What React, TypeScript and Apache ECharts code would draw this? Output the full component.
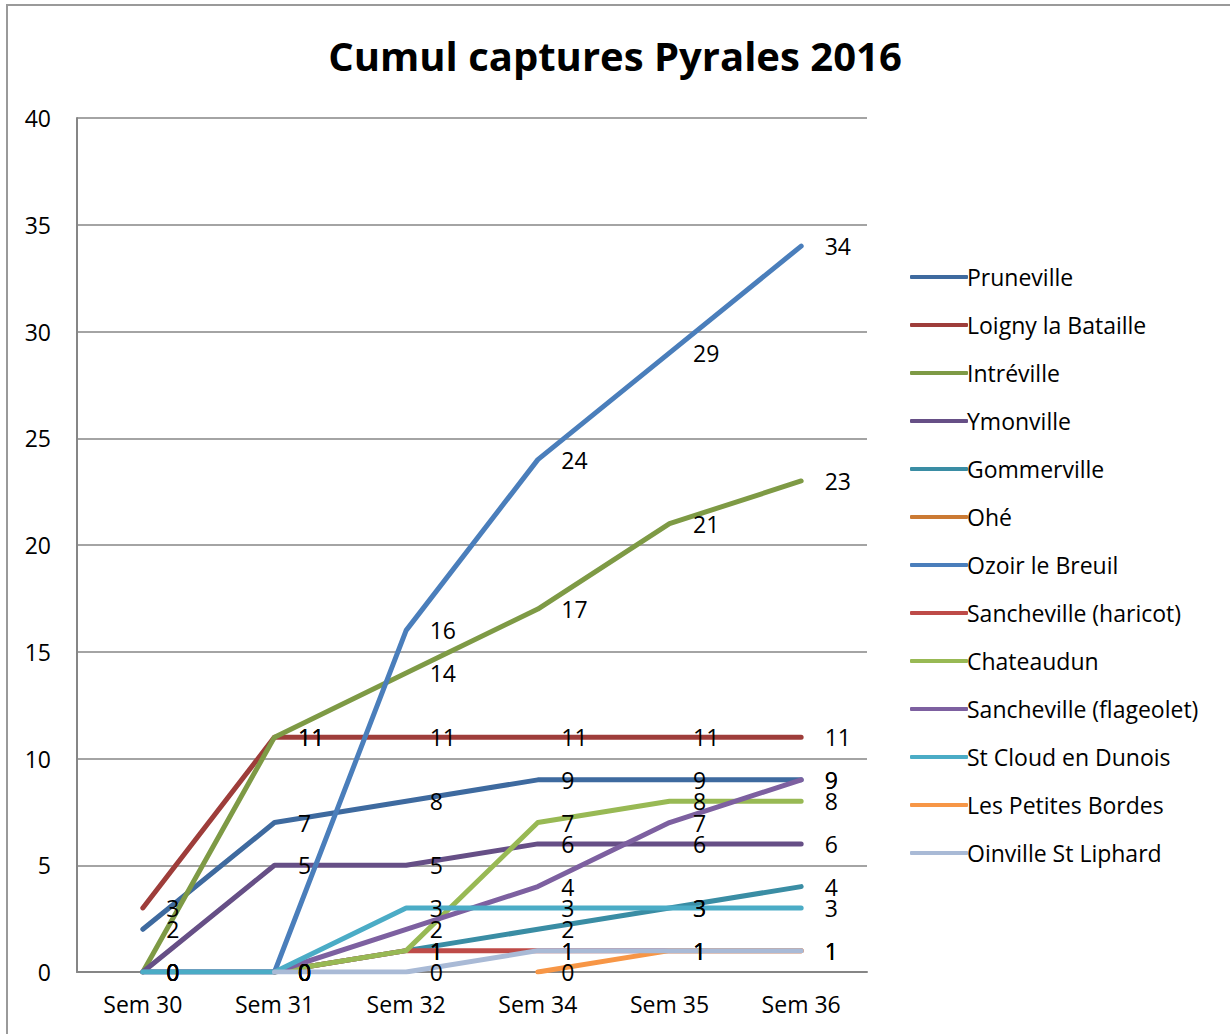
import React, { useEffect, useRef } from "react";
import * as echarts from "echarts";

const categories = ["Sem 30", "Sem 31", "Sem 32", "Sem 34", "Sem 35", "Sem 36"];
const yTicks = { min: 0, max: 40, interval: 5 };

const seriesNames = [
  "Pruneville",
  "Loigny la Bataille",
  "Intréville",
  "Ymonville",
  "Gommerville",
  "Ohé",
  "Ozoir le Breuil",
  "Sancheville (haricot)",
  "Chateaudun",
  "Sancheville (flageolet)",
  "St Cloud en Dunois",
  "Les Petites Bordes",
  "Oinville St Liphard",
];

const pruneville = [2, 7, 8, 9, 9, 9];
const loigny = [3, 11, 11, 11, 11, 11];
const intreville = [0, 11, 14, 17, 21, 23];
const ymonville = [0, 5, 5, 6, 6, 6];
const gommerville = [0, 0, 1, 2, 3, 4];
const ohe = [null, null, null, null, null, null];
const ozoir = [null, 0, 16, 24, 29, 34];
const sanchevilleHaricot = [null, 0, 1, 1, 1, 1];
const chateaudun = [null, 0, 1, 7, 8, 8];
const sanchevilleFlageolet = [0, 0, 2, 4, 7, 9];
const stCloud = [0, 0, 3, 3, 3, 3];
const petitesBordes = [null, null, null, 0, 1, 1];
const oinville = [null, 0, 0, 1, 1, 1];

const seriesValues = [
  pruneville,
  loigny,
  intreville,
  ymonville,
  gommerville,
  ohe,
  ozoir,
  sanchevilleHaricot,
  chateaudun,
  sanchevilleFlageolet,
  stCloud,
  petitesBordes,
  oinville,
];

const colors = [
  "#3E6A9F",
  "#9E3D3A",
  "#7E9A45",
  "#664F86",
  "#3A8DA4",
  "#CB7A33",
  "#4A7EBB",
  "#BE4B48",
  "#98B954",
  "#7D60A0",
  "#4BACC6",
  "#F79646",
  "#A9BAD6",
];

const FONT = "Open Sans";

export default function App() {
  const ref = useRef<HTMLDivElement>(null);
  useEffect(() => {
    if (!ref.current) return;
    const chart = echarts.init(ref.current, undefined, { renderer: "svg" });
    chart.setOption({
      animation: false,
      backgroundColor: "#ffffff",
      color: colors,
      textStyle: { fontFamily: FONT },
      title: {
        text: "Cumul captures Pyrales 2016",
        left: "center",
        top: 30,
        textStyle: { fontFamily: FONT, fontWeight: "bold", fontSize: 40, color: "#000" },
      },
      graphic: [
        {
          type: "rect",
          shape: { x: 7, y: 5, width: 1300, height: 1100 },
          style: { fill: "none", stroke: "#9a9a9a", lineWidth: 2 },
          silent: true,
        },
      ],
      legend: {
        orient: "vertical",
        left: 905,
        top: 260,
        icon: "roundRect",
        itemWidth: 58,
        itemHeight: 4,
        itemGap: 24,
        textStyle: { fontFamily: FONT, fontSize: 23, color: "#000", lineHeight: 24, padding: [0, 0, 0, -6] },
        data: seriesNames.map((name, i) => ({ name, itemStyle: { color: colors[i] } })),
      },
      grid: { left: 77, right: 363, top: 118, bottom: 62 },
      xAxis: {
        type: "category",
        data: categories,
        boundaryGap: true,
        axisLine: { lineStyle: { color: "#868686", width: 2 } },
        axisTick: { show: false },
        axisLabel: { color: "#000", fontSize: 23, margin: 20, fontFamily: FONT },
      },
      yAxis: {
        type: "value",
        min: yTicks.min,
        max: yTicks.max,
        interval: yTicks.interval,
        axisLine: { show: true, lineStyle: { color: "#868686", width: 2 } },
        axisTick: { show: false },
        splitLine: { lineStyle: { color: "#868686", width: 1.5 } },
        axisLabel: { color: "#000", fontSize: 23, margin: 26, fontFamily: FONT },
      },
      series: seriesNames.map((name, i) => ({
        name,
        type: "line",
        data: seriesValues[i],
        symbol: "circle",
        symbolSize: 1,
        showSymbol: true,
        connectNulls: false,
        lineStyle: { width: 5, cap: "round", join: "round", color: colors[i] },
        itemStyle: { color: "rgba(0,0,0,0)" },
        label: {
          show: true,
          position: "right",
          distance: 23,
          color: "#000",
          fontSize: 23,
          fontFamily: FONT,
        },
      })),
    });
    return () => chart.dispose();
  }, []);
  return (
    <div
      ref={ref}
      style={{ position: "fixed", left: 0, top: 0, width: 1230, height: 1034 }}
    />
  );
}
